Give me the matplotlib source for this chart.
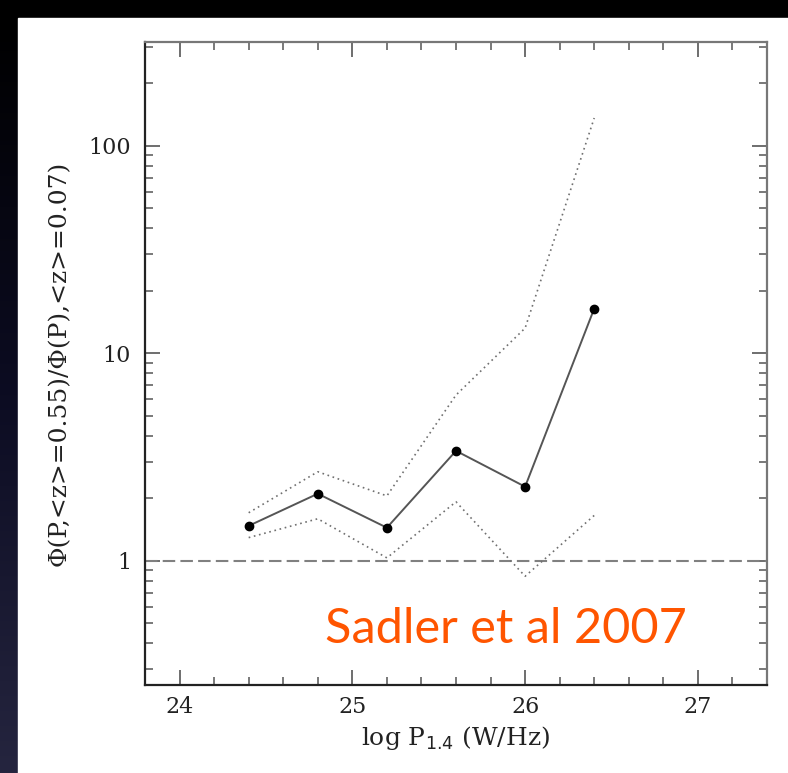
import numpy as np
import matplotlib.pyplot as plt
from matplotlib.colors import LinearSegmentedColormap
from matplotlib.patches import Rectangle
from matplotlib.ticker import FixedLocator, MultipleLocator, LogLocator, NullFormatter

# ratio of radio luminosity functions, z~0.55 vs z~0.07
log_p = [24.4, 24.8, 25.2, 25.6, 26.0, 26.4]
ratio = [1.47, 2.10, 1.44, 3.38, 2.27, 16.4]
ratio_hi = [1.70, 2.68, 2.05, 6.28, 13.2, 136]
ratio_lo = [1.29, 1.59, 1.03, 1.92, 0.84, 1.65]

x_ticks = [24, 25, 26, 27]
y_ticks = [1, 10, 100]
y_ticklabels = ['1', '10', '100']

W, H = 788, 773
fig = plt.figure(figsize=(W / 100, H / 100), dpi=100)
fig.patch.set_facecolor('black')

# slide background: dark strip on the left, white panel
bg = fig.add_axes([0, 0, 1, 1], zorder=0)
bg.axis('off')
edge = LinearSegmentedColormap.from_list('edge', ['#000000', '#0c0c22', '#25253f'])
bg.imshow(np.linspace(0, 1, 256)[:, None], extent=(0, 18, H, 18),
          cmap=edge, aspect='auto')
bg.add_patch(Rectangle((18, 18), W - 18, H - 18, color='white'))
bg.set_xlim(0, W)
bg.set_ylim(H, 0)

ax = fig.add_axes([145 / W, 1 - 685 / H, (767 - 145) / W, (685 - 42) / H], zorder=1)
ax.set_facecolor('none')

ax.axhline(1, color='#808080', lw=1.5, ls=(0, (6, 2.5)))
ax.plot(log_p, ratio_hi, color='#707070', lw=1.2, ls=(0, (1, 2.2)))
ax.plot(log_p, ratio_lo, color='#707070', lw=1.2, ls=(0, (1, 2.2)))
ax.plot(log_p, ratio, color='#555555', lw=1.4, marker='o', ms=6,
        mfc='black', mec='black')

ax.set_yscale('log')
ax.set_xlim(23.8, 27.4)
ax.set_ylim(10 ** -0.6, 10 ** 2.5)

ax.xaxis.set_major_locator(FixedLocator(x_ticks))
ax.xaxis.set_minor_locator(MultipleLocator(0.2))
ax.yaxis.set_major_locator(FixedLocator(y_ticks))
ax.set_yticklabels(y_ticklabels)
ax.yaxis.set_minor_locator(LogLocator(base=10, subs=np.arange(2, 10)))
ax.yaxis.set_minor_formatter(NullFormatter())

ax.tick_params(which='both', direction='in', top=True, right=True,
               color='#555555', labelsize=16, labelcolor='#222222')
ax.tick_params(which='major', length=11, width=1.2)
ax.tick_params(which='minor', length=6, width=1.1)
ax.tick_params(axis='x', pad=8)
ax.tick_params(axis='y', pad=10)
for lab in ax.get_xticklabels() + ax.get_yticklabels():
    lab.set_family('DejaVu Serif')

for side in ['left', 'bottom']:
    ax.spines[side].set_color('#222222')
    ax.spines[side].set_linewidth(1.6)
for side in ['top', 'right']:
    ax.spines[side].set_color('#777777')
    ax.spines[side].set_linewidth(1.6)

ax.set_xlabel(r'log P$_{\rm 1.4}$ (W/Hz)', family='DejaVu Serif',
              fontsize=18, color='#222222', labelpad=4)
ax.set_ylabel('Φ(P,<z>=0.55)/Φ(P),<z>=0.07)', family='DejaVu Serif',
              fontsize=18, color='#222222', labelpad=13)

ax.text(325, 643, 'Sadler et al 2007', transform=bg.transData,
        family='Lato', fontsize=35, color='#ff5500', va='baseline', ha='left')

fig.savefig('out.png', dpi=100, facecolor='black')
